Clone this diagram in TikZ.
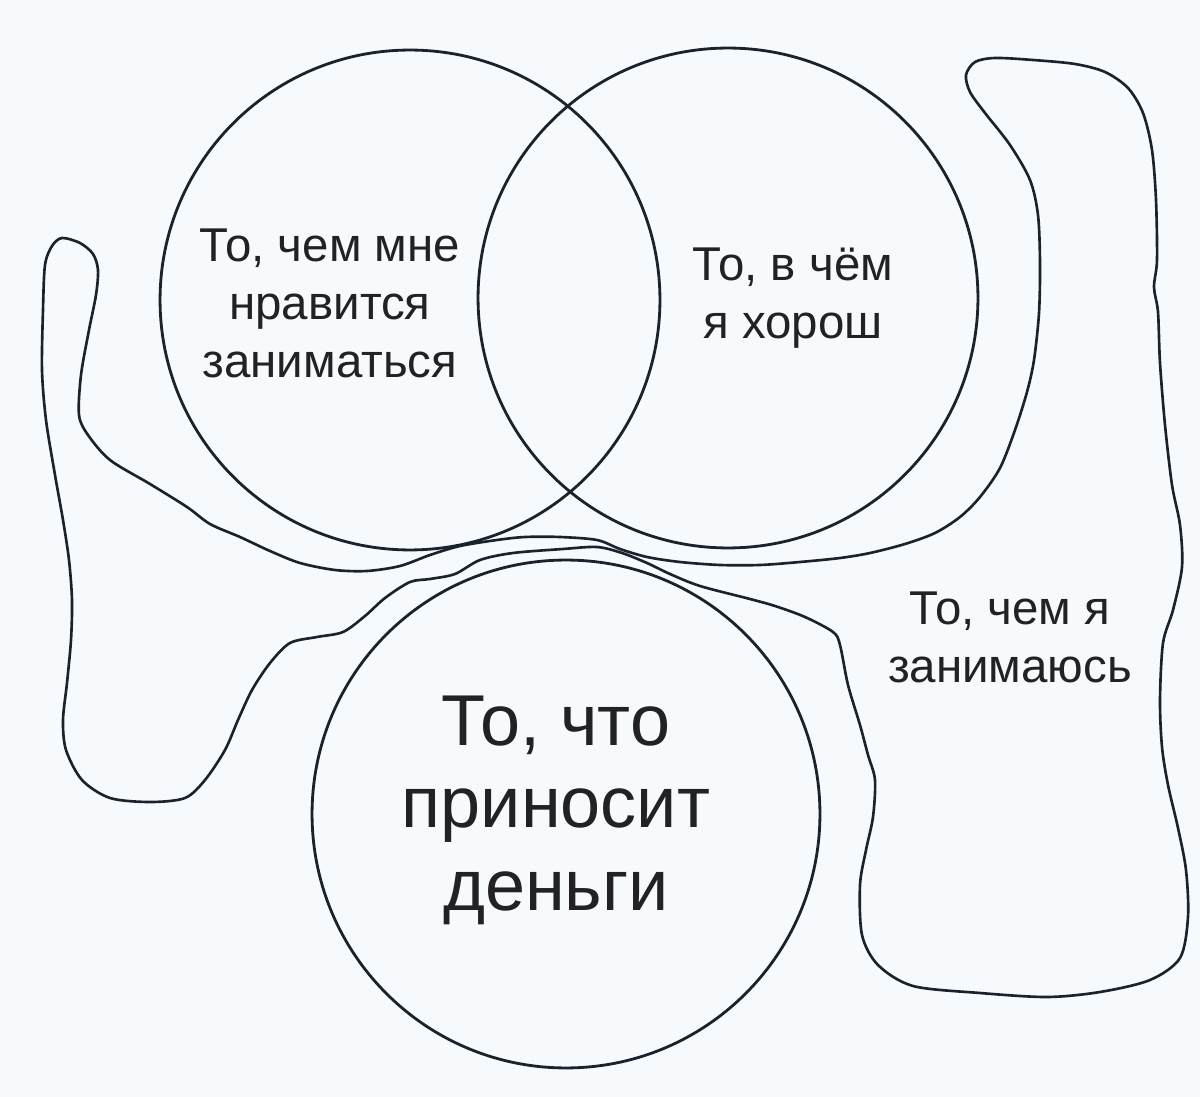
\documentclass[tikz,border=0pt]{standalone}
\usepackage{fontspec}
\setmainfont{Liberation Sans}
\definecolor{ink}{RGB}{26,34,44}
\definecolor{paper}{RGB}{246,250,253}
\definecolor{txt}{RGB}{34,34,36}
\tikzset{
  venn/.style={circle, draw=ink, line width=1.6pt, minimum size=10cm, inner sep=0pt},
  smalllabel/.style={text=txt, align=center, inner sep=0pt, font=\fontsize{27}{33}\selectfont},
  biglabel/.style={text=txt, align=center, inner sep=0pt, font=\fontsize{41}{47}\selectfont},
  blob/.style={draw=ink, line width=1.5pt}
}
\begin{document}
\begin{tikzpicture}[x=0.02cm, y=-0.02cm]
\fill[paper] (0,0) rectangle (1200,1097);
\useasboundingbox (0,0) rectangle (1200,1097);

% the free-form region "what I do"
\draw[blob] plot[smooth cycle, tension=0.5] coordinates {
 (62,238) (80,243) (93,254) (98,270) (96,295) (89,330) (81,375) (79,415) (88,435)
 (110,460) (150,484) (187,507) (210,524) (240,537) (270,551) (300,563) (335,570)
 (367,571) (400,566) (430,555) (460,546) (497,540) (525,537) (560,537) (597,540)
 (620,549) (647,557) (680,562) (720,565) (760,565) (800,562) (840,558) (870,553)
 (905,544) (935,533) (960,517) (980,497) (1000,468) (1015,430) (1027,392) (1034,360)
 (1039,313) (1040,263) (1038,215) (1030,180) (1010,145) (985,113) (970,92) (966,75)
 (975,62) (995,58) (1033,60) (1075,64) (1105,72) (1128,88) (1143,113) (1152,150)
 (1156,200) (1157,260) (1154,287) (1158,312) (1160,363) (1165,425) (1172,485)
 (1180,525) (1182,567) (1173,610) (1163,643) (1160,700) (1162,747) (1168,785)
 (1178,828) (1186,870) (1188,917) (1180,958) (1150,980) (1100,992) (1047,997)
 (980,993) (913,986) (878,965) (862,935) (860,885) (866,850) (873,817) (875,780)
 (868,755) (860,725) (848,685) (840,645) (833,632) (805,617) (775,606) (750,599)
 (700,586) (670,574) (647,563) (622,553) (597,547) (563,549) (513,553) (480,560)
 (455,574) (430,579) (410,582) (385,598) (365,616) (343,632) (317,637) (290,643)
 (270,663) (252,690) (238,720) (225,750) (205,780) (185,798) (150,802) (110,798)
 (82,780) (66,750) (63,720) (67,683) (71,640) (72,600) (69,560) (63,520) (55,475)
 (46,420) (42,370) (43,310) (45,265) (52,246)
};

% the three circles
\node[venn] (like)  at (410,300) {};
\node[venn] (good)  at (728,298) {};
\node[venn, minimum size=10.16cm] (money) at (566,814) {};

% labels
\node[smalllabel] (likeText) at (330,303) {То, чем мне\\нравится\\заниматься};
\node[smalllabel] (goodText) at (793,298) {То, в чём\\я хорош};
\node[smalllabel] (doText) at (1010,637) {То, чем я\\занимаюсь};
\node[biglabel] (moneyText) at (556,810) {То, что\\приносит\\деньги};
\end{tikzpicture}
\end{document}
